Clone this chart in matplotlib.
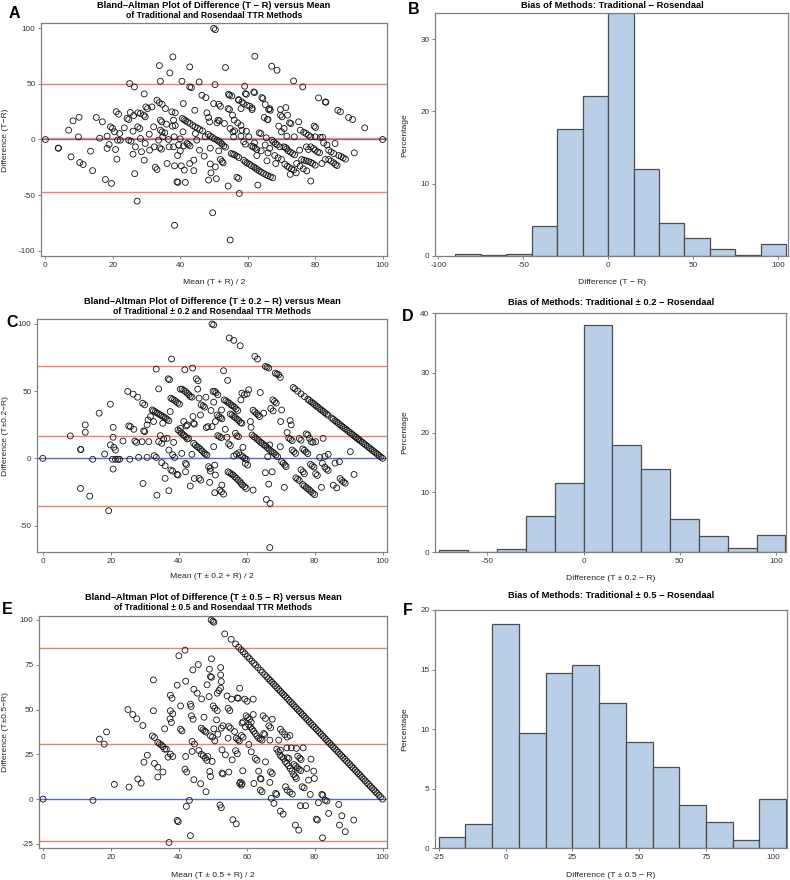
import numpy as np
import matplotlib
matplotlib.use("Agg")
import matplotlib.pyplot as plt

plt.rcParams['font.family'] = ['Liberation Sans', 'DejaVu Sans']
plt.rcParams['axes.unicode_minus'] = False

# ---- panel A: Bland-Altman T vs R  (mean, difference) ----
a_pts = [
    (0, 0), (3.8, -7.8), (3.9, -7.8), (6.9, 8.4), (7.6, -15.6), (8.2, 16.8), (10, 20), (9.8, 2.4), (10.2, -20.7), (11.2, -22.5),
    (13.4, -10.5), (14, -28), (15.1, 19.8), (16.9, 15.9), (16.1, 1.2), (17.8, -36), (18.3, 3), (18.3, -8), (19.6, -39.5), (19.3, 11.4),
    (19.9, 10), (18.9, -4.5), (21, 25), (21.7, 22.8), (20.5, 6.9), (20.8, -9), (21.2, -17.7), (21.4, -0.6), (22, 5.4), (22.2, -0.6),
    (23.4, 10.5), (24.2, 18.9), (24.7, 18), (25, 50.3), (25.2, 24.3), (24.7, -0.6), (25.4, -1.5), (26, 7.5), (26.4, 47.3), (26.2, 21.6),
    (26.5, -30.8), (26, -13.2), (26.7, -6.6), (27.2, -55.4), (27.4, 11.4), (28, 9.9), (27.4, 24), (28.2, 23.4), (28.2, 0.9), (28.5, -11),
    (29.2, 21.9), (29.6, 20.4), (29.3, 41), (29.3, -18.6), (29.6, -3.6), (30.3, 27.8), (29.8, 29.3), (30.8, 4.8), (30.9, -9.6), (31.6, 29.3),
    (32.1, 11.4), (32.3, -6.6), (32.6, -25), (33.1, -27), (33.1, 35.3), (33.8, 33.2), (33.8, 66.5), (34.1, 52.4), (34.6, 31.7), (34.1, 17.4),
    (34.5, 15.9), (34.1, 8.4), (34.6, 6.9), (33.6, -0.6), (33.9, -7.5), (34.4, -8.7), (34.8, 2.4), (35.6, 27.8), (35.4, 6), (35.9, 13.8),
    (36.1, -21.6), (36.5, 0), (36.9, 59.9), (36.7, -6.6), (37.5, 24.9), (37.7, 12), (37.8, 74.3), (38, 17.4), (38, -6.6), (38.2, 2.4),
    (38.3, -23.7), (38.5, 24), (38.5, 12.6), (39, -38), (39.3, -38.6), (38.3, -77.2), (39.2, -14.4), (39.5, -4.8), (40, -10.2), (40, 0.6),
    (40.3, -23.7), (40.5, 52.4),
    (40.6, 18.9), (41.1, 17.9), (41.6, 16.9), (42.2, 15.6), (42.9, 14.4), (43.7, 12.6), (44.4, 11.4), (45.1, 10.2), (45.8, 9),
    (40.9, 32.3), (40.8, 6.9), (41, -5.7), (41.2, -27.5), (41.5, -38.6), (42.8, 65.3), (42.8, 47.3), (43.3, 46.7), (42, -3.6), (42.4, -4.5),
    (42.9, -5.7), (42.8, -21.6), (44, -18.6), (44, -28), (44.3, 26.3), (44.5, 5.4), (44.9, -0.6), (45.6, 51.8), (45.7, -9.6), (46.4, 39.8),
    (46.6, 7.8), (47.1, -15), (47.4, 2.4), (47.6, 37.7), (47.9, 24), (48.3, 4.5), (48.9, 3), (49.5, 1.8), (50.1, 0.6), (48.4, 19.8),
    (48.7, 15.9), (48.4, -36.5), (48.9, -22), (49.1, -30), (48.9, -7.8), (49.6, -65.9), (49.9, 100), (50.4, 98.8), (49.9, 32.3), (50.3, 49.4),
    (50.4, -24.6), (50.7, -35.3), (50.9, 15), (51.2, 17.4), (51.6, 16.8), (51.4, 31.7), (51.9, 29.9),
    (50.9, -0.6), (51.4, -1.5), (51.9, -2.7), (52.4, -4.2), (52.9, -5.7), (53.4, -6.9),
    (51.4, -10.2), (51.9, -18), (52.4, -19.8), (52.7, -21), (53.1, 14.4), (53.4, 64.7), (54.2, 27.8), (54.6, 27), (54.2, -41.9), (54.6, 39.8),
    (55.3, 39.2), (54.8, -90.4), (54.8, 9.9), (55.6, 6.9),
    (55.1, -12.6), (55.6, -13.2), (56.1, -13.8), (56.8, -15), (57.4, -16.2),
    (55.8, 2.4), (55.5, 21.9), (56.1, 7.8), (56.8, -34), (57.3, -35), (57.3, 35.9), (57.5, -48.5), (58, 3), (58, 27.8), (58.3, 8.4),
    (58.8, -18.6), (59.3, -20.1), (59.8, -21), (60.5, -22.2), (61.1, -23.7), (61.8, -24.6), (62.3, -25.8), (62.8, -27), (63.4, -28.1),
    (64, -29.3), (64.7, -30.5), (65.4, -31.7), (66, -32.6), (66.7, -33.5), (67.4, -34.4),
    (59.1, 47.9), (58.8, -2.1), (59.6, 40.7), (59.3, -4.2), (59.8, 30.8), (60.6, 29.9), (61.3, 28.4), (60.3, 2.4),
    (61.2, -6), (61.7, -6.6), (62.2, -7.8), (62.7, -9),
    (62, 42.2), (62.1, 74.9), (62.7, -14.4), (63, -41), (63.4, 6), (63.9, 5.4), (64, -10.2), (64.5, 36.8), (64.9, 19.8), (65.2, 31.4),
    (65.2, -5), (65.5, 1.5), (65.7, -19.2), (66, 18), (66.5, 27.8), (67.1, 65.9),
    (67.2, -0.6), (67.7, -2.4), (68.2, -3.6), (68.7, -4.8), (69.5, -6.6),
    (68, -14.4), (68.3, -21.6), (68.7, 62.3), (69.2, 12), (69.7, 21.9), (70.2, 20.4), (69.7, 27), (70, 6.9),
    (70.7, -6.6), (71.2, -7.2), (71.6, -8.4), (70.8, 9.9),
    (71, -22.2), (71.7, -24), (72.3, -25.2), (73, -26.3), (73.6, -27.5),
    (71.3, 28.7), (71.6, 3), (71.8, 21.9),
    (72, -10.2), (72.7, -11.4), (73.3, -12.6), (73.9, -13.8),
    (72.4, 15), (72.8, 14.4), (72.6, -31.4), (73.6, 52.7), (73.8, 2.4), (74.4, -30), (75.1, 15.9), (75.4, -9.6), (75.6, 8.4), (76.3, 47.3),
    (76, -18), (76.7, -18.6), (77.3, -19.2), (78, -19.8), (78.7, -20.7), (79.3, -21.6), (80, -23.1),
    (76.6, 6.6), (77.3, 5.4), (78, 3.9), (78.7, 2.4),
    (77.4, -6.6), (78, -9),
    (78.7, -6.6), (79.5, -8.1), (80, -9.6), (80.7, -11.1), (81.3, -12),
    (78.7, -37.4), (79.7, 12), (80, 2.4), (81, 37.4), (81.5, 1.8), (82.2, 2.1), (82, -21.6), (83, 33.8), (83.2, 33.5), (83, -18),
    (84, -18), (84.7, -19.5), (85.5, -21), (86, -22.5), (86.5, -23.4),
    (84, -9.6), (84.7, -11.1), (85.5, -12.6), (85.9, -3.6), (86.7, 26.3), (87.5, 24.9),
    (87, -14.4), (87.7, -15.3), (88.3, -16.5), (89, -17.7),
    (89.9, 19.8), (91.1, 18), (91.6, -12), (94.7, 10.5), (100, 0),
    (54.3, 40.7), (57.3, 35.3), (58.3, 33.8), (58.8, 32.3), (61.3, 26.9), (59.3, 41.3), (61.8, 42.8), (64.2, 37.7), (66.2, 27),
    (66.7, 26.3), (65.8, 18), (80.1, 10.8), (56, 17.5), (57, 15), (58, 12.6), (59.6, 7.5), (62, -3), (66, -12), (69, -16.5),
    (70, -18), (74.5, -21.6), (75.5, -24), (76.5, -26.4), (77.5, -28.2), (66.5, -8), (82.5, -3), (83.5, -5),
]
a_limits = [50.3, 1.2, -47.6]

# ---- panel C: T +/- 0.2 vs R ----
c_pts = [
    (0, 0), (8.1, 16.7), (11.1, 6.7), (11.2, 6.5), (11.1, -22.4), (12.5, 24.9), (12.5, 19.4), (13.8, -28.1), (14.7, -0.7), (16.6, 33.6),
    (18.2, 3.2), (19.4, -39), (19.9, 40.3), (19.9, 10), (20.7, 23.1), (20.7, 15.7), (20.5, -0.7), (20.7, -8), (20.9, 8.2), (21.4, 6.2),
    (21.4, -0.7), (22.1, -0.7), (22.6, -0.7), (23.6, 12.9), (25, 49.8), (25.3, 24.1), (25.8, 23.6), (25.6, -0.7), (26.6, 47.8), (26.8, 21.6),
    (27.1, 12.9), (27.6, 11.9), (27.9, 45.5), (28.2, 0.7), (29.2, 12.4), (29.4, 41), (30, 39.8), (29.5, -18.7), (29.7, 20.4), (30, 19.9),
    (30.7, 24.9), (30.7, 0.7), (31, 28.6), (31.2, 12.4), (31.7, 31.1),
    (32.2, 36), (32.6, 35.3), (33.1, 34.6), (33.6, 33.8), (34.1, 33.1), (34.6, 32.3), (35.1, 31.6), (35.6, 30.8), (36.1, 30), (36.6, 29), (37.1, 28),
    (32.6, 27.4), (32.8, 2), (33.4, 0.7), (33.4, 66.4), (33.6, -27.4), (34.1, 51.7), (34.1, 12.4), (34.6, 16.9), (35, 11.2), (35, -3.2),
    (35.3, 26.1), (35.6, 14.4), (36, -5.5), (36, -14.9), (36.6, 14.9), (36.9, 59.2), (37.3, 58.5), (37.1, 6.2), (37.1, -24.1), (37.5, 34.8),
    (37.7, 44.8), (38.2, 44), (38.7, 43.3), (39.2, 42.3), (39.7, 41.3), (40.2, 40.3),
    (37.7, -8.7), (38.2, -9.5), (37.9, 73.9), (38.2, 2.7), (38.5, 11.9), (38.8, 0.7), (39.5, -11.9), (39.8, -12.4),
    (39.8, 21.1), (40.3, 20.1), (40.8, 18.9), (41.3, 17.6), (41.7, 16.9), (42.1, 15.9), (42.5, 14.4),
    (40.5, 51.5), (41, 51.5), (41.5, 50.5), (42, 49.8), (42.5, 48.5), (43, 47.3), (43.4, 46), (43.9, 45.5),
    (40.5, 22.4), (40.9, 3.7), (41.5, 27.4), (41.8, 65.9), (42, -3.7), (42.3, -4.7), (42, -10), (42.2, 24.1), (42.5, 24.9), (42.9, 14.9),
    (43.4, -20.6), (43.9, 3), (44.1, 67.2), (44.2, 31.1), (44.4, 26.1), (44.6, 25.4),
    (44.4, 11.2), (44.9, 9.9), (45.4, 8.7), (45.9, 8), (46.4, 6.7), (46.9, 5.5), (47.4, 4.2), (47.8, 3.2), (48.3, 2.5),
    (44.6, -15), (45.2, 59.2), (45.7, 57.7), (45.6, 51.5), (46, 44.8), (46, -14.9), (46.5, -16.2), (46.6, 39.8), (47.2, 39.1), (47.6, 38.1),
    (46.4, 32.3), (48, 45.5), (48.1, 22.9), (48.6, 23.6), (48.8, -6.2), (49.3, -7.5), (49.1, -17.9), (49.3, -9.5), (49.5, 35.6), (49.8, 100),
    (50.3, 99.3),
    (50.1, 49.8), (50.6, 49.8), (51, 48.8), (51.5, 47.3),
    (50.3, 8.7), (49.8, 23.6), (50.3, 41.8), (50.8, 27.4), (50.6, -5), (50.8, -12.4), (50.6, -25.6),
    (51.3, 32.3), (51.8, 31.1), (52.3, 30.3), (52.7, 29.4),
    (51.5, 16.9), (52, 16.2), (52.5, 15.4), (52.1, -23.6), (52.6, -24.9), (52.6, 36), (52.7, -19.9), (53.2, -26.6), (53.2, 65.2),
    (53.4, 43.5), (53.9, 42.8), (54.4, 41.8), (54.9, 41), (55.4, 39.8), (55.9, 39.1), (56.4, 38.1), (56.9, 36.8), (57.4, 35.6),
    (53.7, 21.6), (54.2, 15.7), (54.4, 58),
    (54.5, -10), (55, -10.7), (55.5, -11.7), (56, -12.4), (56.5, -13.7), (57, -14.9), (57.5, -16.2), (58, -17.4), (58.4, -18.7),
    (58.8, -19.9), (59.4, -21.1), (59.9, -22.4),
    (55.2, 33), (55.7, 32.3), (56.2, 31.1), (56.7, 30.3), (57.2, 29.1), (57.7, 28.1), (58.2, 26.6), (58.6, 26.1),
    (54.7, 10.7), (55.2, 9.5),
    (56.7, 18.7), (57.1, 16.7), (57.6, 16.2), (56.2, 1.7), (57, 3), (57.7, 4.2),
    (58.1, 2.5), (58.9, 1.2), (59.4, 0), (59.9, -0.7),
    (58.6, 48.5), (59.3, 47.3), (60.1, 48), (58.3, 43.5), (58.9, 8.2), (59.6, -3.7), (60.3, -5), (60.6, 51), (61.1, 27.4), (61.3, 23.1),
    (61.6, 17.4), (62.1, 16.2), (62.6, 15.4), (63.1, 14.2), (63.6, 13.2), (64.1, 11.9), (64.6, 11.2), (65.1, 9.9), (65.6, 9.2),
    (66.1, 7.9), (66.6, 6.7), (67.1, 5.5), (67.6, 4.7), (68.1, 3.7), (68.6, 2.5), (69.1, 1.2),
    (61.9, -23.6), (61.9, 35.8), (62.4, 34.6), (62.9, 33.3), (63.4, 32.3), (63.8, 31.1),
    (64, 49), (65, 33.6), (65.5, -10.7), (65.8, -30.6), (66.2, 1.2),
    (66.5, -19.2), (66.8, 10), (66.8, -66.4), (66.9, -33.6), (67.5, -10), (67.7, 43.5), (68.2, 42.3), (68.7, 41.1),
    (67.1, 37.1), (67.8, 35.3), (69.9, 8.7), (70, 27.4),
    (70.3, -2.5), (70.8, -3.7), (71.3, -5), (71.6, -6.2),
    (70.3, 36), (71.1, -21.6), (71.9, 19.2), (72.4, 15), (72.9, 14.2), (73.4, 13.2), (72.8, 28.1), (73.1, 24.9),
    (73.4, 6.2), (73.9, 5), (74.4, 3.7),
    (74.5, -14.5), (75, -15.5), (75.5, -16.5), (76.5, -19.5), (77, -20.6), (77.5, -21.6), (78, -22.6), (78.5, -23.6), (79, -24.8),
    (79.5, -26), (80, -27),
    (75.5, 14.8), (76, 13.5), (76.5, 7), (77, 6), (77.5, 4.7), (78, 3.5),
    (76, -8.5), (76.6, -10), (77, -11.5),
    (77.5, 18.2), (78, 17.4), (78.5, 14.9), (79, 12.4), (79.5, 11.9), (80.3, 12.4),
    (78.8, -4.5), (79.3, -5.5), (79.8, -6.5), (80.3, -11.5), (80.8, -12.7),
    (81.5, 0.7), (82.3, -3.7), (83, -6.5), (83.5, -8), (84, -9),
    (82.5, 14.9), (83, 1.5), (84, 3),
    (82, -21.6), (85.5, -20), (86.5, -22), (87.5, -15), (88, -16.5), (88.5, -17.5), (89, -18.5),
    (86, -3.5), (87.3, -2.5), (90.5, 5), (91.6, -12),
]
# points sitting on the T = 100 edge (upper-right diagonal)
c_edge = [
    (54.9, 89.6), (56.2, 87.8), (58.1, 83.8), (62.4, 75.9), (63.2, 73.9), (65.5, 68.4), (66, 67.9), (66.5, 67.2),
    (68.4, 63.4), (68.9, 62.7), (69.4, 62.2), (69.9, 60.2), (73.7, 52.7), (74.2, 51.7), (75, 50), (76, 48),
    (77, 46), (78, 44), (78.5, 43), (79, 42), (79.5, 41), (80, 40), (80.5, 39), (81, 38), (81.5, 37), (82, 36),
    (82.5, 35), (83, 34), (83.5, 33), (84, 32), (85, 30), (85.5, 29), (86, 28), (86.5, 27), (87, 26), (87.5, 25),
    (88, 24), (88.5, 23), (89, 22), (89.5, 21), (90, 20), (90.5, 19), (91, 18), (91.5, 17), (92, 16), (92.3, 15.4),
    (92.7, 14.6), (93, 14), (93.5, 13), (94, 12), (94.5, 11), (95, 10), (95.5, 9), (96, 8), (96.5, 7), (97, 6),
    (97.5, 5), (98, 4), (98.5, 3), (99, 2), (99.5, 1), (100, 0),
]
c_limits = [68.4, 16.6, -35.6]

# ---- panel E: T +/- 0.5 vs R ----
e_pts = [
    (0, 0), (14.7, -0.7), (16.6, 33.5), (18, 30.7), (18.7, 37.5), (21, 8.2), (25, 50), (25.3, 6.7), (26.4, 47.2), (27.6, 44.8),
    (27.9, 11.2), (28.9, 8.9), (29.4, 41.1), (29.7, 20.6), (30.7, 24.5), (32.5, 66.5), (32.5, 49.3), (32.2, 35.3), (32.8, 34.4), (32.8, 19.9),
    (33.8, 31.6), (34.3, 30.9), (34.8, 30.2), (35.3, 29.3), (35.8, 27.9),
    (33.8, 17.8), (33.8, 12.3), (35.3, 15.1), (35.8, 39.2), (36.3, 27.9), (36.8, 23.4), (37.1, -24.2), (37.5, 58), (38, 56.3), (37.5, 49.3),
    (38.2, 47.6), (37.4, 44.8), (37.8, 42.8), (37.5, 25.1), (38.2, 23.8), (39.5, 63.6), (39.5, -11.9), (39.8, -12.6), (40, 80), (40.5, 52),
    (40.5, 39), (40.9, 38.1), (41.8, 16.7), (41.8, 83.1), (42, 65.8), (42, 23.8), (42.2, -4.1), (42.3, 15.1), (43.1, -0.7), (43.4, -20.4),
    (43.4, 53), (43.6, 51.7), (43.7, 46.5), (44.2, 44.6), (43.9, 32.2), (44.6, 30.7), (43.9, 26.6), (44.1, 72.1), (44.4, 10.8), (44.4, 61.3),
    (45.4, 59.1), (45.7, 75.1), (45.9, 27.1), (46.4, 8.6),
    (46.6, 39.6), (47.1, 38.7), (47.6, 38), (48, 37.4),
    (46.6, 25), (47.2, 24.2), (47.8, 22.9), (48.3, 21.6),
    (46.7, 55.9), (47.4, 45.7), (48, 4.1), (48.3, 63.8), (48.5, 23.8), (48.9, 57.2), (49, 72.5), (49.3, 68.4), (49.1, 15.4), (49.3, 12.6),
    (49.5, 100), (50, 99.3), (50.3, 98.7), (49.3, 35.3), (49.9, 34.6), (49.6, 78.3), (49.6, 68), (50.1, 52), (50.6, 50.7), (51.3, 49.4),
    (49.8, 21), (50.3, 39.2), (50.6, 32.5), (51.1, 44.2), (51.3, 59.1), (51.8, 60.6), (51.5, 36.2), (52.1, -3.3), (52.3, 73.4), (52.3, 69.3),
    (52.5, 65.6), (52.3, 61.9), (52.5, -4.8), (52.5, 39.6), (53, 40.9), (52.7, 14.5), (53, 14.1), (52.7, 27.5), (53.7, 24.7),
    (54.2, 57.6), (54.5, 50.7), (55, 49.4), (54.5, 34), (54.7, 15.1), (54.7, 40.5), (55.2, 39.6), (55.5, 55.8), (55.7, 21.9), (55.9, -11.5),
    (56.4, 37.7), (56.7, 27), (56.9, -13.8), (57.2, 25.3), (57.5, 56.3), (56.9, 34), (57.4, 33.2), (57.8, 32.4), (57.9, 61.9),
    (58.1, 9.5), (58.6, 8.6), (58.8, 15.8), (58.6, 42.4), (57.2, 56.5), (58.4, 35.5), (58.9, 34.5),
    (57.9, 8.7), (58.4, 7.8), (58.9, 43.1), (59.6, 40.3), (59.4, 55.8), (60.1, 54.6),
    (59.8, 46.5), (60.3, 45.5), (60.8, 44.6), (61.3, 43), (60.6, 30.5),
    (60.6, 41.3), (61.1, 40.2), (61.6, 39), (62, 37.9), (62.5, 36.6), (63, 35.2), (63.5, 34), (64, 33.5), (64.5, 32.9),
    (61.3, 26.4), (61.9, 47.2), (61.9, 55.8), (62.1, 8.7), (62.5, 22.7), (63, 21.7), (63.5, 15.6), (64, 11.5), (64.2, 11.2), (64, 5),
    (64.5, 4.1), (64.8, 46.5), (65.5, 45), (65, 36.6), (65.3, 36), (65.5, 20.8), (66.5, 40.9), (67, 39.8), (66.8, 32.9), (67, 15.2),
    (67.5, 14.3), (66.8, 9.3), (67.2, 0.4), (68, -2.4), (68.5, 3.2), (68.8, 2.6), (67.5, 44.6), (69.4, 32.9),
    (68.8, 27.9), (69.3, 26.4), (69.8, 24.5), (70.3, 23.6), (70.8, 22.7), (71.3, 21), (71.8, 19.9), (72.3, 18.6), (72.8, 17.1),
    (73.3, 15.6), (73.8, 13.7), (74.3, 12.5), (74.6, 11.5),
    (69.9, -6.7), (70.7, -8.4), (69.9, 39), (70.5, 37.5), (71.2, 36), (71.9, 34.6), (72.7, 35.5),
    (69.9, 27.3), (71.8, 28.6), (73.1, 28.6), (74.6, 28.3), (76.6, 28.6),
    (71.4, 6.9), (71.9, 5), (72.7, 3.9), (73.4, 2.8), (71.9, 23.1), (72.4, 22.7),
    (73.9, 19.3), (74.4, 18.4), (74.9, 17.5), (75.4, 16.6), (75.9, 15.9),
    (74.3, -14.5), (75.3, -17.3), (75, 24), (75.6, 22.9), (76, 22.1),
    (76.3, 6.9), (76.9, 6.3), (75.8, -3.7), (77.3, -3.7), (77.7, 17.1), (78.2, 10.6), (78.7, 2.6), (78.9, 22.3), (79.7, 15.6), (79.9, 11.5),
    (80.5, -11.2), (80.8, -11.7), (81.1, -2), (82.1, 2.6), (82.4, 2.2), (82.3, -21.6), (83.1, -0.6), (83.6, -1.1), (84.1, -8), (87.1, -3),
    (87.3, -14.5), (88, -9.3), (89, -18.2), (91.5, -11.7),
]
e_edge = [
    (53.5, 92.2), (55.4, 89.2), (56.7, 86.6), (57.6, 84.8), (58.3, 83.4), (58.9, 82.2), (59.5, 81), (60.2, 79.6), (60.8, 78.4),
    (61.5, 77), (62.1, 75.8), (62.6, 74.8), (63.3, 73.4), (64, 72), (64.6, 70.8), (65.3, 69.4), (65.9, 68.2), (66.4, 67.2),
    (66.9, 66.2), (67.4, 65.2), (67.9, 64.2), (68.4, 63.2), (68.9, 62.2), (69.4, 61.2), (69.9, 60.2), (70.4, 59.2), (70.9, 58.2),
    (71.4, 57.2), (71.9, 56.2), (72.4, 55.2), (72.9, 54.2), (73.4, 53.2), (73.9, 52.2), (74.4, 51.2), (74.9, 50.2), (75.4, 49.2),
    (75.9, 48.2), (76.4, 47.2), (76.9, 46.2), (77.4, 45.2), (77.9, 44.2), (78.4, 43.2), (78.9, 42.2), (79.4, 41.2), (79.9, 40.2),
    (80.4, 39.2), (80.9, 38.2), (81.4, 37.2), (81.9, 36.2), (82.4, 35.2), (82.9, 34.2), (83.4, 33.2), (83.9, 32.2), (84.4, 31.2),
    (84.9, 30.2), (85.4, 29.2), (85.9, 28.2), (86.4, 27.2), (86.9, 26.2), (87.4, 25.2), (87.9, 24.2), (88.4, 23.2), (88.9, 22.2),
    (89.4, 21.2), (89.9, 20.2), (90.4, 19.2), (90.9, 18.2), (91.4, 17.2), (91.9, 16.2), (92.4, 15.2), (92.9, 14.2), (93.4, 13.2),
    (93.9, 12.2), (94.4, 11.2), (94.9, 10.2), (95.4, 9.2), (95.9, 8.2), (96.4, 7.2), (96.9, 6.2), (97.4, 5.2), (97.9, 4.2),
    (98.4, 3.2), (98.9, 2.2), (99.4, 1.2), (100, 0),
]
e_limits = [84.2, 30.7, -23.2]

# ---- histograms: bin edges and percentage per bin ----
b_edges = [-90, -75, -60, -45, -30, -15, 0, 15, 30, 45, 60, 75, 90, 105]
b_pct = [0.3, 0.1, 0.3, 4.1, 17.6, 22.1, 33.6, 12.0, 4.5, 2.5, 1.0, 0.1, 1.7]
d_edges = [-75, -60, -45, -30, -15, 0, 15, 30, 45, 60, 75, 90, 105]
d_pct = [0.3, 0.0, 0.45, 6.1, 11.5, 38.0, 17.9, 13.9, 5.5, 2.6, 0.6, 2.8]
f_edges = [-25, -15, -5, 5, 15, 25, 35, 45, 55, 65, 75, 85, 95, 105]
f_pct = [0.92, 2.04, 18.85, 9.66, 14.7, 15.35, 12.18, 8.88, 6.8, 3.64, 2.21, 0.64, 4.12]

W, H = 790, 880
RED = '#F2806E'
BLUE = '#5A6CC4'
SPINE = '#808080'


def box(l, t, r, b):
    # pixel box -> figure fraction rect
    return [l / W, 1 - b / H, (r - l) / W, (b - t) / H]


def ftext(x, y, s, **kw):
    fig.text(x / W, 1 - y / H, s, ha='center', va='center', **kw)


def style(ax):
    for s in ax.spines.values():
        s.set_color(SPINE)
        s.set_linewidth(0.9)
    ax.tick_params(direction='out', length=2.5, width=0.7, color=SPINE,
                   labelsize=5.9, labelcolor='#333333', pad=1.5)


def ba_panel(rect, pts, edge, limits, xlim, ylim, yticks):
    ax = fig.add_axes(rect)
    style(ax)
    ax.axhline(0, color=BLUE, lw=1.0, zorder=1)
    for v in limits:
        ax.axhline(v, color=RED, lw=1.0, zorder=1)
    allp = np.array(pts + edge)
    ax.scatter(allp[:, 0], allp[:, 1], s=18, facecolors='none', edgecolors='#111111',
               linewidths=0.6, zorder=3)
    ax.set_xlim(*xlim)
    ax.set_ylim(*ylim)
    ax.set_xticks([0, 20, 40, 60, 80, 100])
    ax.set_yticks(yticks)
    return ax


def hist_panel(rect, edges, pct, xlim, ylim, xticks, yticks):
    ax = fig.add_axes(rect)
    style(ax)
    e = np.array(edges, dtype=float)
    ax.bar(e[:-1], pct, width=np.diff(e), align='edge', color='#B9CFE8',
           edgecolor='#4D4D4D', linewidth=0.9)
    ax.set_xlim(*xlim)
    ax.set_ylim(*ylim)
    ax.set_xticks(xticks)
    ax.set_yticks(yticks)
    return ax


fig = plt.figure(figsize=(W / 100, H / 100), dpi=100)

# A
ba_panel(box(41, 23, 387, 256), a_pts, [], a_limits, (-1.3, 101.3), (-104.8, 104.8), [-100, -50, 0, 50, 100])
ftext(214, 5, 'Bland–Altman Plot of Difference (T − R) versus Mean', fontsize=6.7, fontweight='bold')
ftext(214, 15, 'of Traditional and Rosendaal TTR Methods', fontsize=6.2, fontweight='bold')
ftext(214, 283, 'Mean (T + R) / 2', fontsize=6.1, color='#222222')
ftext(6, 140, 'Difference (T−R)', fontsize=6.1, color='#222222', rotation=90)
ftext(14, 14, 'A', fontsize=11.5, fontweight='bold')

# B
hist_panel(box(435, 13, 788, 256), b_edges, b_pct, (-102, 106), (0, 33.6), [-100, -50, 0, 50, 100], [0, 10, 20, 30])
ftext(612, 5, 'Bias of Methods: Traditional − Rosendaal', fontsize=6.7, fontweight='bold')
ftext(612, 283, 'Difference (T − R)', fontsize=6.1, color='#222222')
ftext(405, 135, 'Percentage', fontsize=6.1, color='#222222', rotation=90)
ftext(414, 10, 'B', fontsize=11.5, fontweight='bold')

# C
ba_panel(box(37, 319, 387, 552), c_pts, c_edge, c_limits, (-1.7, 101.3), (-69.7, 103.7), [-50, 0, 50, 100])
ftext(212, 301, 'Bland–Altman Plot of Difference (T ± 0.2 − R) versus Mean', fontsize=6.7, fontweight='bold')
ftext(212, 311, 'of Traditional ± 0.2 and Rosendaal TTR Methods', fontsize=6.2, fontweight='bold')
ftext(212, 577, 'Mean (T ± 0.2 + R) / 2', fontsize=6.1, color='#222222')
ftext(6, 436, 'Difference (T±0.2−R)', fontsize=6.1, color='#222222', rotation=90)
ftext(12, 322, 'C', fontsize=11.5, fontweight='bold')

# D
hist_panel(box(435, 313, 786, 552), d_edges, d_pct, (-77.3, 105.3), (0, 40), [-50, 0, 50, 100], [0, 10, 20, 30, 40])
ftext(611, 302, 'Bias of Methods: Traditional ± 0.2 − Rosendaal', fontsize=6.7, fontweight='bold')
ftext(611, 578, 'Difference (T ± 0.2 − R)', fontsize=6.1, color='#222222')
ftext(405, 432, 'Percentage', fontsize=6.1, color='#222222', rotation=90)
ftext(408, 316, 'D', fontsize=11.5, fontweight='bold')

# E
ba_panel(box(39, 616, 387, 848), e_pts, e_edge, e_limits, (-1.2, 101.3), (-27.3, 102.2), [-25, 0, 25, 50, 75, 100])
ftext(213, 597, 'Bland–Altman Plot of Difference (T ± 0.5 − R) versus Mean', fontsize=6.7, fontweight='bold')
ftext(213, 607, 'of Traditional ± 0.5 and Rosendaal TTR Methods', fontsize=6.2, fontweight='bold')
ftext(213, 875, 'Mean (T ± 0.5 + R) / 2', fontsize=6.1, color='#222222')
ftext(6, 732, 'Difference (T±0.5−R)', fontsize=6.1, color='#222222', rotation=90)
ftext(7, 609, 'E', fontsize=11.5, fontweight='bold')

# F
hist_panel(box(435, 610, 787, 848), f_edges, f_pct, (-26.4, 105.3), (0, 20), [-25, 0, 25, 50, 75, 100], [0, 5, 10, 15, 20])
ftext(611, 596, 'Bias of Methods: Traditional ± 0.5 − Rosendaal', fontsize=6.7, fontweight='bold')
ftext(611, 875, 'Difference (T ± 0.5 − R)', fontsize=6.1, color='#222222')
ftext(405, 729, 'Percentage', fontsize=6.1, color='#222222', rotation=90)
ftext(408, 610, 'F', fontsize=11.5, fontweight='bold')

fig.savefig('out.png', dpi=100, facecolor='white')
